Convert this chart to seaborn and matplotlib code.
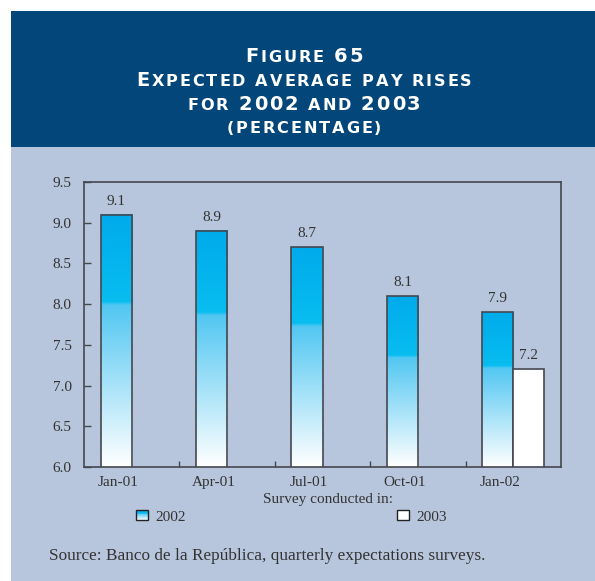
import numpy as np
import pandas as pd
import matplotlib
matplotlib.use("Agg")
import matplotlib.pyplot as plt
import seaborn as sns
from matplotlib.colors import LinearSegmentedColormap
from matplotlib.patches import Rectangle
from matplotlib.legend_handler import HandlerBase

# ---- data -------------------------------------------------------------
surveys = ["Jan-01", "Apr-01", "Jul-01", "Oct-01", "Jan-02"]
pay_2002 = [9.1, 8.9, 8.7, 8.1, 7.9]
pay_2003 = [None, None, None, None, 7.2]
series = ["2002", "2003"]
y_ticks = [6.0, 6.5, 7.0, 7.5, 8.0, 8.5, 9.0, 9.5]

title_lines = ["Figure 65", "Expected average pay rises",
               "for 2002 and 2003", "(percentage)"]
x_title = "Survey conducted in:"
source_note = "Source: Banco de la República, quarterly expectations surveys."

# ---- style ------------------------------------------------------------
HEADER = "#03467a"
PANEL = "#b7c6dd"
INK = "#333333"
EDGE = "#45474f"
CYAN = "#00aeef"
FS = 11

sns.set_theme(style="white")
plt.rcParams["font.family"] = ["Liberation Serif", "DejaVu Serif"]

W, H = 595, 581
fig = plt.figure(figsize=(W / 100, H / 100), dpi=100)
fig.patch.set_facecolor("white")


def fx(px):
    return px / W


def fy(py):
    return 1 - py / H


# background panels
fig.patches.append(Rectangle((fx(11), fy(581)), fx(595) - fx(11), fy(147) - fy(581),
                             transform=fig.transFigure, facecolor=PANEL,
                             edgecolor="none", zorder=-5))
fig.patches.append(Rectangle((fx(11), fy(147)), fx(595) - fx(11), fy(11) - fy(147),
                             transform=fig.transFigure, facecolor=HEADER,
                             edgecolor="none", zorder=-5))

# ---- bars -------------------------------------------------------------
rows = [(s, "2002", v) for s, v in zip(surveys, pay_2002)]
rows += [(s, "2003", v) for s, v in zip(surveys, pay_2003) if v is not None]
df = pd.DataFrame(rows, columns=["survey", "year", "pct"])

ax = fig.add_axes([fx(84), fy(467), fx(561) - fx(84), fy(182) - fy(467)])
ax.set_facecolor("none")

sns.barplot(data=df, x="survey", y="pct", hue="year", order=surveys,
            hue_order=series, palette={"2002": CYAN, "2003": "white"},
            width=0.65, dodge=True, saturation=1, edgecolor=EDGE,
            linewidth=1.2, legend=False, ax=ax)

Y_MIN, Y_MAX = y_ticks[0], y_ticks[-1]

# vertical cyan-to-white fill for the 2002 bars
fade = LinearSegmentedColormap.from_list(
    "fade", [(0.0, "#ffffff"), (0.64, "#52c7f2"), (0.655, "#08bdf0"), (1.0, "#00abeb")])
grad = np.linspace(0, 1, 256).reshape(-1, 1)
for bar in ax.containers[0]:
    x0, w = bar.get_x(), bar.get_width()
    top = bar.get_y() + bar.get_height()
    ax.imshow(grad, extent=[x0, x0 + w, Y_MIN, top], origin="lower",
              aspect="auto", cmap=fade, interpolation="bilinear",
              zorder=bar.get_zorder() - 0.1)
    bar.set_facecolor("none")

for cont in ax.containers:
    ax.bar_label(cont, fmt="%.1f", padding=5, fontsize=FS, color=INK)

ax.set_xlim(-0.5, len(surveys) - 0.5)
ax.set_ylim(Y_MIN, Y_MAX)

# axes furniture
ax.set_yticks(y_ticks)
ax.set_yticklabels([f"{t:.1f}" for t in y_ticks])
label_pos = [b.get_x() + b.get_width() / 2 + 0.02 for b in ax.containers[0]]
ax.set_xticks(label_pos)
ax.set_xticklabels(surveys)
ax.set_xticks(np.arange(0.5, len(surveys) - 0.5, 1.0), minor=True)
ax.tick_params(axis="y", direction="in", left=True, length=5, width=1,
               color=EDGE, pad=9, labelsize=FS, labelcolor=INK)
ax.tick_params(axis="x", which="major", bottom=True, length=0, pad=6.5,
               labelsize=FS, labelcolor=INK)
ax.tick_params(axis="x", which="minor", bottom=True, direction="in",
               length=4, width=1, color=EDGE)
for sp in ax.spines.values():
    sp.set_visible(True)
    sp.set_color(EDGE)
    sp.set_linewidth(1.2)

ax.set_ylabel("")
ax.set_xlabel(x_title, fontsize=FS, color=INK)
ax.xaxis.set_label_coords((328 - 84) / (561 - 84), -(500 - 467) / (467 - 182))
ax.xaxis.label.set_va("center")


# ---- legend -----------------------------------------------------------
class FadeHandler(HandlerBase):
    def __init__(self, cmap, steps=10):
        super().__init__()
        self.cmap = cmap
        self.steps = steps

    def create_artists(self, legend, orig_handle, xdescent, ydescent,
                       width, height, fontsize, trans):
        arts = []
        for i in range(self.steps):
            arts.append(Rectangle((-xdescent, -ydescent + height * i / self.steps),
                                  width, height / self.steps,
                                  facecolor=self.cmap((i + 0.5) / self.steps),
                                  edgecolor="none", transform=trans))
        arts.append(Rectangle((-xdescent, -ydescent), width, height,
                              facecolor="none", edgecolor="#222222",
                              linewidth=1, transform=trans))
        return arts


h02 = Rectangle((0, 0), 1, 1, facecolor=CYAN)
h03 = Rectangle((0, 0), 1, 1, facecolor="white", edgecolor="#222222", linewidth=1)
fig.legend([h02, h03], series, handler_map={h02: FadeHandler(fade)},
           loc="center", bbox_to_anchor=(fx(291.5), fy(517)), ncol=2,
           frameon=False, fontsize=FS, handlelength=0.8, handleheight=0.55,
           handletextpad=0.5, columnspacing=13.8, borderpad=0,
           labelcolor=INK)

# ---- heading in small capitals ----------------------------------------
renderer = fig.canvas.get_renderer()


def small_caps(text, baseline_px, cx_px, big=14, small=11.6, track=1.9):
    pieces = []
    for ch in text:
        if ch == " ":
            pieces.append((None, small * 0.38 * 100 / 72))
            continue
        size = big if (ch.isupper() or ch.isdigit()) else small
        t = fig.text(0, fy(baseline_px), ch.upper(), fontsize=size,
                     color="white", family="DejaVu Sans", weight="bold",
                     ha="left", va="baseline")
        pieces.append((t, t.get_window_extent(renderer).width))
    total = sum(w for _, w in pieces) + track * (len(pieces) - 1)
    x = cx_px - total / 2
    for t, w in pieces:
        if t is not None:
            t.set_x(fx(x))
        x += w + track


for line, base in zip(title_lines, [62, 85.7, 110, 133]):
    small_caps(line, base, 304)

fig.text(fx(49), fy(556), source_note, fontsize=12.4, color=INK,
         ha="left", va="center")

fig.savefig("out.png", dpi=100)
